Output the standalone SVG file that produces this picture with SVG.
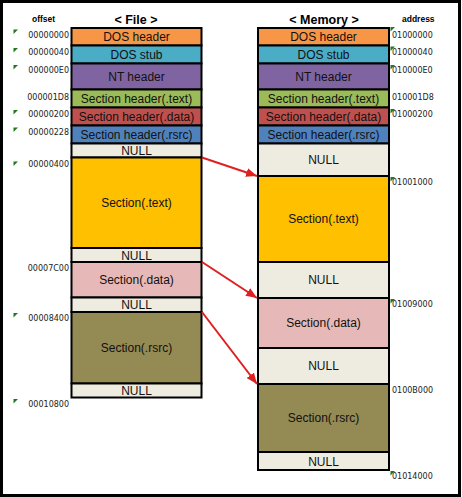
<svg xmlns="http://www.w3.org/2000/svg" width="462" height="497" viewBox="0 0 462 497">
<style>
.row{stroke:#000;stroke-width:2}
.lbl{font-family:"Liberation Sans",Arial,sans-serif;font-size:12px;fill:#111;text-anchor:middle}
.num{font-family:"DejaVu Sans",Verdana,sans-serif;font-size:8px;fill:#222}
.off{text-anchor:end}
.hdr{font-family:"Liberation Sans",Arial,sans-serif;font-weight:bold;fill:#000}
.tri{fill:#1f7a1f}
.arr{stroke:#e02020;stroke-width:2;fill:none}
</style>
<defs>
<marker id="ah" markerUnits="userSpaceOnUse" markerWidth="11" markerHeight="9" refX="11" refY="4.5" orient="auto">
<path d="M0,0 L11,4.5 L0,9 z" fill="#e02020"/>
</marker>
</defs>
<rect x="1.5" y="1.5" width="458" height="494" fill="#fff" stroke="#000" stroke-width="3"/>
<text class="hdr" x="32" y="21.5" font-size="8.5">offset</text>
<text class="hdr" x="136" y="24" font-size="12.5" text-anchor="middle">&lt; File &gt;</text>
<text class="hdr" x="324" y="24" font-size="12.5" text-anchor="middle">&lt; Memory &gt;</text>
<text class="hdr" x="402" y="21.5" font-size="8.5">address</text>

<g id="file">
<g id="f-dos-header"><rect class="row" x="71.5" y="28" width="130" height="17.5" fill="#F79646"/><text class="lbl" x="136.5" y="41">DOS header</text></g>
<g id="f-dos-stub"><rect class="row" x="71.5" y="45.5" width="130" height="18" fill="#4BACC6"/><text class="lbl" x="136.5" y="59">DOS stub</text></g>
<g id="f-nt-header"><rect class="row" x="71.5" y="63.5" width="130" height="26" fill="#8064A2"/><text class="lbl" x="136.5" y="81">NT header</text></g>
<g id="f-sh-text"><rect class="row" x="71.5" y="89.5" width="130" height="18" fill="#9BBB59"/><text class="lbl" x="136.5" y="103">Section header(.text)</text></g>
<g id="f-sh-data"><rect class="row" x="71.5" y="107.5" width="130" height="18" fill="#C0504D"/><text class="lbl" x="136.5" y="121">Section header(.data)</text></g>
<g id="f-sh-rsrc"><rect class="row" x="71.5" y="125.5" width="130" height="18" fill="#4F81BD"/><text class="lbl" x="136.5" y="139">Section header(.rsrc)</text></g>
<g id="f-null1"><rect class="row" x="71.5" y="143.5" width="130" height="14" fill="#EEECE1"/><text class="lbl" x="136.5" y="155">NULL</text></g>
<g id="f-text"><rect class="row" x="71.5" y="157.5" width="130" height="90.5" fill="#FFC000"/><text class="lbl" x="136.5" y="207">Section(.text)</text></g>
<g id="f-null2"><rect class="row" x="71.5" y="248" width="130" height="14" fill="#EEECE1"/><text class="lbl" x="136.5" y="259.5">NULL</text></g>
<g id="f-data"><rect class="row" x="71.5" y="262" width="130" height="35.5" fill="#E6B9B8"/><text class="lbl" x="136.5" y="284">Section(.data)</text></g>
<g id="f-null3"><rect class="row" x="71.5" y="297.5" width="130" height="14.5" fill="#EEECE1"/><text class="lbl" x="136.5" y="309">NULL</text></g>
<g id="f-rsrc"><rect class="row" x="71.5" y="312" width="130" height="71.5" fill="#948A54"/><text class="lbl" x="136.5" y="352">Section(.rsrc)</text></g>
<g id="f-null4"><rect class="row" x="71.5" y="383.5" width="130" height="14" fill="#EEECE1"/><text class="lbl" x="136.5" y="395">NULL</text></g>
</g>

<g id="memory">
<g id="m-dos-header"><rect class="row" x="258" y="28" width="131" height="17.5" fill="#F79646"/><text class="lbl" x="323.5" y="41">DOS header</text></g>
<g id="m-dos-stub"><rect class="row" x="258" y="45.5" width="131" height="18" fill="#4BACC6"/><text class="lbl" x="323.5" y="59">DOS stub</text></g>
<g id="m-nt-header"><rect class="row" x="258" y="63.5" width="131" height="26" fill="#8064A2"/><text class="lbl" x="323.5" y="81">NT header</text></g>
<g id="m-sh-text"><rect class="row" x="258" y="89.5" width="131" height="18" fill="#9BBB59"/><text class="lbl" x="323.5" y="103">Section header(.text)</text></g>
<g id="m-sh-data"><rect class="row" x="258" y="107.5" width="131" height="18" fill="#C0504D"/><text class="lbl" x="323.5" y="121">Section header(.data)</text></g>
<g id="m-sh-rsrc"><rect class="row" x="258" y="125.5" width="131" height="18" fill="#4F81BD"/><text class="lbl" x="323.5" y="139">Section header(.rsrc)</text></g>
<g id="m-null1"><rect class="row" x="258" y="143.5" width="131" height="32.5" fill="#EEECE1"/><text class="lbl" x="323.5" y="164">NULL</text></g>
<g id="m-text"><rect class="row" x="258" y="176" width="131" height="86" fill="#FFC000"/><text class="lbl" x="323.5" y="223">Section(.text)</text></g>
<g id="m-null2"><rect class="row" x="258" y="262" width="131" height="36" fill="#EEECE1"/><text class="lbl" x="323.5" y="284">NULL</text></g>
<g id="m-data"><rect class="row" x="258" y="298" width="131" height="50" fill="#E6B9B8"/><text class="lbl" x="323.5" y="327">Section(.data)</text></g>
<g id="m-null3"><rect class="row" x="258" y="348" width="131" height="36" fill="#EEECE1"/><text class="lbl" x="323.5" y="370">NULL</text></g>
<g id="m-rsrc"><rect class="row" x="258" y="384" width="131" height="68" fill="#948A54"/><text class="lbl" x="323.5" y="422">Section(.rsrc)</text></g>
<g id="m-null4"><rect class="row" x="258" y="452" width="131" height="18" fill="#EEECE1"/><text class="lbl" x="323.5" y="465.5">NULL</text></g>
</g>

<g id="offsets">
<polygon class="tri" points="13.5,29.5 18,29.5 13.5,34"/><text class="num off" x="69" y="37.5">00000000</text>
<polygon class="tri" points="13.5,48 18,48 13.5,52.5"/><text class="num off" x="69" y="55">00000040</text>
<polygon class="tri" points="13.5,65 18,65 13.5,69.5"/><text class="num off" x="69" y="73">000000E0</text>
<text class="num off" x="69" y="100">000001D8</text>
<polygon class="tri" points="13.5,110 18,110 13.5,114.5"/><text class="num off" x="69" y="117">00000200</text>
<polygon class="tri" points="13.5,127.5 18,127.5 13.5,132"/><text class="num off" x="69" y="135">00000228</text>
<polygon class="tri" points="13.5,161.5 18,161.5 13.5,166"/><text class="num off" x="69" y="166.5">00000400</text>
<text class="num off" x="69" y="270.5">00007C00</text>
<polygon class="tri" points="13.5,313 18,313 13.5,317.5"/><text class="num off" x="69" y="320.5">00008400</text>
<polygon class="tri" points="13.5,399 18,399 13.5,403.5"/><text class="num off" x="69" y="406.5">00010800</text>
</g>

<g id="addresses">
<polygon class="tri" points="390.5,27 395,27 390.5,31.5"/><text class="num" x="392" y="37.5">01000000</text>
<polygon class="tri" points="390.5,46.5 395,46.5 390.5,51"/><text class="num" x="392" y="55">01000040</text>
<polygon class="tri" points="390.5,65 395,65 390.5,69.5"/><text class="num" x="392" y="73">010000E0</text>
<text class="num" x="392" y="99.5">010001D8</text>
<polygon class="tri" points="390.5,109 395,109 390.5,113.5"/><text class="num" x="392" y="117">01000200</text>
<polygon class="tri" points="390.5,177 395,177 390.5,181.5"/><text class="num" x="392" y="185">01001000</text>
<polygon class="tri" points="390.5,299 395,299 390.5,303.5"/><text class="num" x="392" y="306.5">01009000</text>
<text class="num" x="392" y="392.5">0100B000</text>
<polygon class="tri" points="390.5,471 395,471 390.5,475.5"/><text class="num" x="392" y="478.5">01014000</text>
</g>

<g id="connectors">
<line class="arr" x1="202" y1="157.5" x2="257" y2="176" marker-end="url(#ah)"/>
<line class="arr" x1="202" y1="262" x2="257" y2="298" marker-end="url(#ah)"/>
<line class="arr" x1="202" y1="312" x2="257" y2="384" marker-end="url(#ah)"/>
</g>
</svg>
